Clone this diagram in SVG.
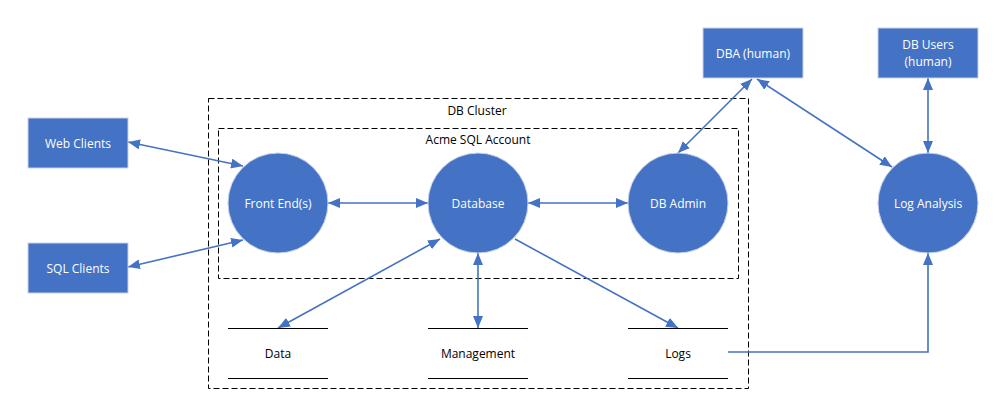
<svg xmlns="http://www.w3.org/2000/svg" width="1008" height="418" viewBox="0 0 1008 418">
<style>
.box{fill:#4472C4;stroke:#C9D3E6;stroke-width:1}
.proc{fill:#4472C4;stroke:#C9D3E6;stroke-width:1}
.lbl{font-family:"Open Sans","Liberation Sans",sans-serif;font-size:12px;fill:#FFFFFF;text-anchor:middle;dominant-baseline:central}
.dark{font-family:"Open Sans","Liberation Sans",sans-serif;font-size:12px;fill:#000000;text-anchor:middle;dominant-baseline:central}
.bound{fill:none;stroke:#000000;stroke-width:1;stroke-dasharray:6 3}
.store{stroke:#000000;stroke-width:1}
.conn{fill:none;stroke:#4472C4;stroke-width:1.6}
</style>
<defs>
<marker id="ah" markerUnits="userSpaceOnUse" viewBox="0 0 12 10" markerWidth="12" markerHeight="10" refX="12" refY="5" orient="auto-start-reverse">
<path d="M0,0 L12,5 L0,10 z" fill="#4472C4"/>
</marker>
</defs>
<g id="boundaries">
<rect class="bound" x="208.5" y="98.5" width="540" height="290"/>
<text class="dark" x="477" y="110">DB Cluster</text>
<rect class="bound" x="218.5" y="128.5" width="520" height="150"/>
<text class="dark" x="478" y="139">Acme SQL Account</text>
</g>
<g id="connectors">
<line class="conn" x1="128" y1="142" x2="243" y2="166" marker-start="url(#ah)" marker-end="url(#ah)"/>
<line class="conn" x1="128" y1="267" x2="243" y2="240" marker-start="url(#ah)" marker-end="url(#ah)"/>
<line class="conn" x1="328" y1="203" x2="428" y2="203" marker-start="url(#ah)" marker-end="url(#ah)"/>
<line class="conn" x1="528" y1="203" x2="628" y2="203" marker-start="url(#ah)" marker-end="url(#ah)"/>
<line class="conn" x1="752" y1="79" x2="678" y2="153" marker-start="url(#ah)" marker-end="url(#ah)"/>
<line class="conn" x1="757" y1="79" x2="892" y2="167" marker-start="url(#ah)" marker-end="url(#ah)"/>
<line class="conn" x1="928" y1="78" x2="928" y2="153" marker-start="url(#ah)" marker-end="url(#ah)"/>
<line class="conn" x1="440" y1="239" x2="278" y2="328" marker-start="url(#ah)" marker-end="url(#ah)"/>
<line class="conn" x1="478" y1="253" x2="478" y2="328" marker-start="url(#ah)" marker-end="url(#ah)"/>
<line class="conn" x1="515" y1="239" x2="678" y2="328" marker-end="url(#ah)"/>
<polyline class="conn" points="728,352 928,352 928,253" marker-end="url(#ah)"/>
</g>
<g id="web-clients"><rect class="box" x="28" y="118" width="100" height="50"/><text class="lbl" x="78" y="143">Web Clients</text></g>
<g id="sql-clients"><rect class="box" x="28" y="243" width="100" height="50"/><text class="lbl" x="78" y="268">SQL Clients</text></g>
<g id="dba"><rect class="box" x="703" y="28" width="100" height="50"/><text class="lbl" x="753" y="53">DBA (human)</text></g>
<g id="db-users"><rect class="box" x="878" y="28" width="100" height="50"/><text class="lbl" x="928" y="44">DB Users</text><text class="lbl" x="928" y="61">(human)</text></g>
<g id="front-end"><circle class="proc" cx="278" cy="203" r="50"/><text class="lbl" x="278" y="203">Front End(s)</text></g>
<g id="database"><circle class="proc" cx="478" cy="203" r="50"/><text class="lbl" x="478" y="203">Database</text></g>
<g id="db-admin"><circle class="proc" cx="678" cy="203" r="50"/><text class="lbl" x="678" y="203">DB Admin</text></g>
<g id="log-analysis"><circle class="proc" cx="928" cy="203" r="50"/><text class="lbl" x="928" y="203">Log Analysis</text></g>
<g id="data"><line class="store" x1="228" y1="328.5" x2="328" y2="328.5"/><line class="store" x1="228" y1="378.5" x2="328" y2="378.5"/><text class="dark" x="278" y="353">Data</text></g>
<g id="management"><line class="store" x1="428" y1="328.5" x2="528" y2="328.5"/><line class="store" x1="428" y1="378.5" x2="528" y2="378.5"/><text class="dark" x="478" y="353">Management</text></g>
<g id="logs"><line class="store" x1="628" y1="328.5" x2="728" y2="328.5"/><line class="store" x1="628" y1="378.5" x2="728" y2="378.5"/><text class="dark" x="678" y="353">Logs</text></g>
</svg>
